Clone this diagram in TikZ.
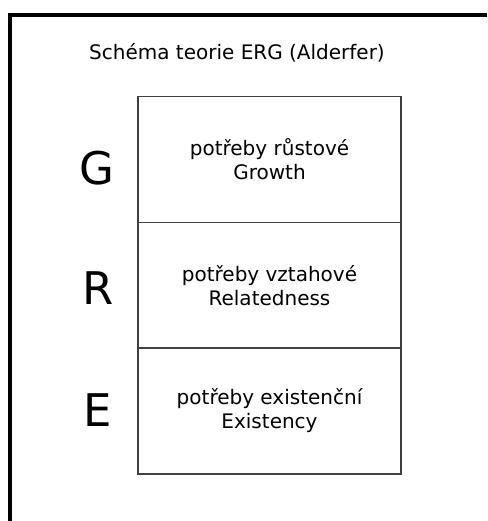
\documentclass[tikz,border=0pt]{standalone}
\usepackage{fontspec}
\setmainfont{DejaVu Sans}
\begin{document}
\begin{tikzpicture}[x=1pt,y=-1pt,
  frameline/.style={line width=4pt,black},
  level/.style={draw=black!75,line width=1.8pt,minimum width=263pt,minimum height=126pt,inner sep=0pt,
    align=center,font=\fontsize{20pt}{24pt}\selectfont},
  letter/.style={font=\fontsize{45pt}{50pt}\selectfont,inner sep=0pt,anchor=base},
  titletext/.style={font=\fontsize{20pt}{24pt}\selectfont,inner sep=0pt,anchor=base}]
\useasboundingbox (0,0) rectangle (487,521);
\coordinate (fl) at (10.3,521);
\coordinate (fc) at (10.3,14.7);
\coordinate (fr) at (487,14.7);
\draw[frameline] (fl) -- (fc) -- (fr);
\node[titletext] (title) at (237,60) {Schéma teorie ERG (Alderfer)};
\node[level] (g) at (269.5,159.5) {potřeby růstové\\Growth};
\node[level] (r) at (269.5,285.5) {potřeby vztahové\\Relatedness};
\node[level] (e) at (269.5,411) {potřeby existenční\\Existency};
\node[letter] (lg) at (97,185) {G};
\node[letter] (lr) at (98,304) {R};
\node[letter] (le) at (98,426) {E};
\end{tikzpicture}
\end{document}
